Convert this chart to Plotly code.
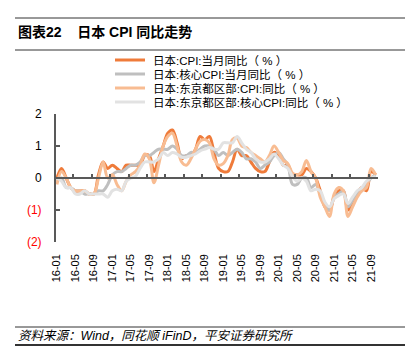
import plotly.graph_objects as go

W, H = 411, 353

# ---------------- data ----------------
months = [f"{y:02d}-{m:02d}" for y in range(16, 22) for m in range(1, 13)][:70]
tick_labels = ["16-01", "16-05", "16-09", "17-01", "17-05", "17-09", "18-01", "18-05",
               "18-09", "19-01", "19-05", "19-09", "20-01", "20-05", "20-09", "21-01",
               "21-05", "21-09"]

cpi = [0.0, 0.3, 0.0, -0.3, -0.4, -0.4, -0.4, -0.5, -0.5, 0.1, 0.5, 0.3,
       0.4, 0.3, 0.2, 0.4, 0.4, 0.4, 0.4, 0.7, 0.7, 0.2, 0.6, 1.0,
       1.4, 1.5, 1.1, 0.6, 0.7, 0.7, 0.9, 1.3, 1.2, 1.3, 0.8, 0.3,
       0.2, 0.2, 0.5, 0.9, 0.7, 0.7, 0.5, 0.3, 0.2, 0.2, 0.5, 0.8,
       0.7, 0.4, 0.4, 0.1, 0.1, 0.1, 0.3, 0.2, 0.0, -0.4, -0.9, -1.0,
       -0.6, -0.4, -0.4, -1.0, -0.8, -0.5, -0.3, -0.4, 0.2, 0.1]

core = [-0.1, 0.0, -0.3, -0.3, -0.4, -0.4, -0.5, -0.5, -0.5, -0.4, -0.4, -0.2,
        0.1, 0.2, 0.2, 0.3, 0.4, 0.4, 0.5, 0.7, 0.7, 0.8, 0.9, 0.9,
        0.9, 1.0, 0.9, 0.7, 0.7, 0.8, 0.8, 0.9, 1.0, 1.0, 0.9, 0.7,
        0.8, 0.7, 0.8, 0.9, 0.8, 0.6, 0.6, 0.5, 0.3, 0.4, 0.5, 0.7,
        0.8, 0.6, 0.4, -0.2, -0.2, 0.0, 0.0, -0.3, -0.2, -0.5, -0.8, -1.0,
        -0.6, -0.5, -0.4, -0.9, -0.7, -0.5, -0.4, -0.2, 0.0, 0.1]

tokyo_cpi = [-0.2, 0.2, 0.0, -0.3, -0.4, -0.4, -0.4, -0.5, -0.5, 0.0, 0.5, 0.0,
             0.1, -0.2, -0.4, -0.1, 0.1, 0.2, 0.4, 0.75, 0.6, -0.15, 0.4, 1.0,
             1.3, 1.4, 1.0, 0.5, 0.4, 0.6, 0.9, 1.15, 1.2, 1.1, 0.6, 0.4,
             0.45, 0.7, 1.2, 1.25, 1.0, 0.95, 0.8, 0.7, 0.6, 0.5, 0.7, 1.0,
             0.8, 0.55, 0.45, 0.15, 0.1, 0.2, 0.55, 0.2, 0.0, -0.6, -0.9, -1.2,
             -0.5, -0.3, -0.4, -1.2, -0.9, -0.6, -0.4, -0.3, 0.3, 0.1]

tokyo_core = [0.0, -0.1, -0.3, -0.3, -0.5, -0.5, -0.4, -0.5, -0.5, -0.5, -0.5, -0.6,
              -0.4, -0.35, -0.4, -0.1, 0.0, 0.05, 0.3, 0.5, 0.5, 0.5, 0.6, 0.8,
              0.7, 0.8, 0.75, 0.65, 0.65, 0.7, 0.75, 0.85, 0.9, 0.95, 0.9, 0.9,
              1.1, 1.1, 1.1, 1.3, 1.1, 0.9, 0.8, 0.6, 0.5, 0.5, 0.6, 0.75,
              0.6, 0.4, 0.3, 0.05, -0.1, 0.0, -0.1, -0.4, -0.35, -0.4, -0.75, -0.9,
              -0.65, -0.55, -0.5, -0.8, -0.6, -0.4, -0.3, -0.1, 0.0, 0.05]

series_names = ["日本:CPI:当月同比（ % ）", "日本:核心CPI:当月同比（ % ）",
                "日本:东京都区部:CPI:同比（ % ）", "日本:东京都区部:核心CPI:同比（ % ）"]
series_values = [cpi, core, tokyo_cpi, tokyo_core]
series_colors = ["#EF7B3A", "#BFBFBF", "#F8BC92", "#E2E2E2"]

y_ticks = [2, 1, 0, -1, -2]
y_ticktext = ["2", "1", "0", '<span style="color:#FF0000">(1)</span>',
              '<span style="color:#FF0000">(2)</span>']

# ---------------- layout helpers ----------------
L, R, T, B = 56, 378, 114, 242
PW, PH = R - L, B - T


def px(x):
    return (x - L) / PW


def py(y):
    return (B - y) / PH


FONT = "Liberation Sans, Arial, Noto Sans CJK SC, sans-serif"

fig = go.Figure()
for name, vals, col in zip(series_names, series_values, series_colors):
    fig.add_trace(go.Scatter(x=months, y=vals, name=name, mode="lines",
                             line=dict(color=col, width=3, shape="spline", smoothing=1.0),
                             showlegend=False))
# helper trace so the zero-line axis (x2) is drawn
fig.add_trace(go.Scatter(x=[None], y=[None], xaxis="x2", showlegend=False, hoverinfo="skip"))

shapes = []
annotations = []

# title + rules
for yy, w in [(18, 1), (50, 1), (327, 1), (345, 2)]:
    shapes.append(dict(type="line", xref="paper", yref="paper", x0=px(15), x1=px(405),
                       y0=py(yy), y1=py(yy), line=dict(color="#333333", width=w)))
annotations.append(dict(xref="paper", yref="paper", x=px(16), y=py(32), xanchor="left",
                        yanchor="middle", showarrow=False,
                        text="<b>图表22\u00a0\u00a0\u00a0\u00a0日本 CPI 同比走势</b>",
                        font=dict(size=14, color="#000000", family=FONT)))
annotations.append(dict(xref="paper", yref="paper", x=px(16), y=py(336), xanchor="left",
                        yanchor="middle", showarrow=False,
                        text="<i>资料来源：Wind，同花顺 iFinD，平安证券研究所</i>",
                        font=dict(size=12.5, color="#000000", family=FONT)))

# legend (manual, tight rows)
rows = [60, 74, 88, 102]
for name, col, ry in zip(series_names, series_colors, rows):
    shapes.append(dict(type="line", xref="paper", yref="paper", x0=px(115), x1=px(145),
                       y0=py(ry), y1=py(ry), line=dict(color=col, width=3)))
    annotations.append(dict(xref="paper", yref="paper", x=px(151), y=py(ry), xanchor="left",
                            yanchor="middle", showarrow=False, text=name,
                            font=dict(size=11.5, color="#000000", family=FONT)))

fig.update_layout(
    width=W, height=H,
    margin=dict(l=L, r=W - R, t=T, b=H - B, pad=0),
    paper_bgcolor="white", plot_bgcolor="white",
    font=dict(family=FONT, color="#000000"),
    showlegend=False,
    xaxis=dict(type="category", range=[-0.2, 69.5], tickvals=tick_labels, ticktext=tick_labels,
               tickangle=-90, showline=False, showgrid=False, zeroline=False, ticks="",
               ticklabelstandoff=9, tickfont=dict(size=11, color="#000000")),
    xaxis2=dict(overlaying="x", anchor="free", position=0.5, range=[-0.2, 69.5],
                tickvals=[3.5 + 4 * k for k in range(17)], ticks="inside", ticklen=3,
                tickwidth=1.5, tickcolor="#595959", showline=True, linecolor="#595959",
                linewidth=2, showticklabels=False, showgrid=False, zeroline=False),
    yaxis=dict(range=[-2, 2], tickvals=y_ticks, ticktext=y_ticktext, showline=True,
               linecolor="#595959", linewidth=2, ticks="inside", ticklen=4, tickwidth=1.5,
               tickcolor="#595959", showgrid=False, zeroline=False,
               tickfont=dict(size=12, color="#000000"), ticklabelstandoff=10),
    shapes=shapes,
    annotations=annotations,
)

fig.write_html("out.html")
